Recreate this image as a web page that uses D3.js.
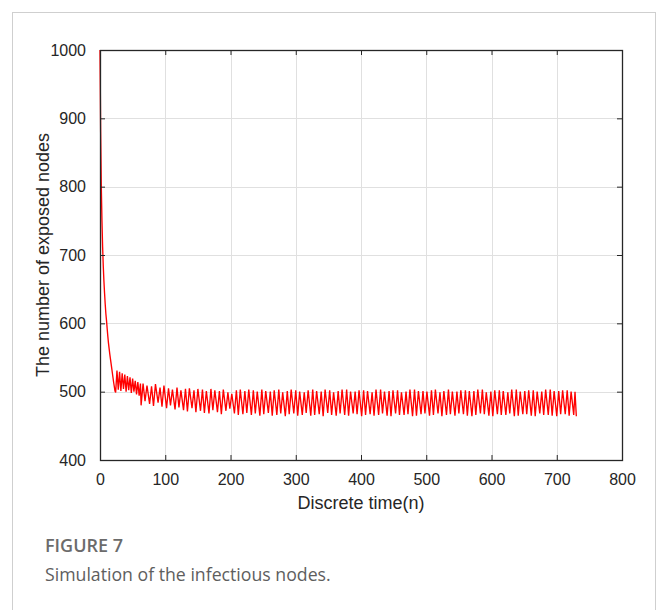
<!DOCTYPE html>
<html>
<head>
<meta charset="utf-8">
<script src="https://cdn.jsdelivr.net/npm/d3@7"></script>
<style>
  html, body { margin: 0; padding: 0; background: #fff; }
  svg { display: block; }
</style>
</head>
<body>
<svg id="chart" width="658" height="610"></svg>
<script>
// Axis ticks
const xTicks = [0, 100, 200, 300, 400, 500, 600, 700, 800];
const yTicks = [400, 500, 600, 700, 800, 900, 1000];

// Discrete time steps (vertices of the simulated trajectory)
const timeSteps = [
  0, 1, 2, 3, 4, 5, 6, 7, 8, 9, 10, 11, 12, 13, 14, 15, 16, 17, 18, 19, 20, 21, 22, 23,
  24, 26, 28, 30, 32, 34, 36, 38, 40, 42, 44, 46, 48, 50, 52, 54, 56, 58, 60, 62,
  63, 66, 69, 72,
  76, 79, 82, 85, 89, 92, 95, 98, 102, 105, 108, 111, 115, 118, 121, 124,
  128, 131, 134, 137, 141, 144, 147, 150, 154, 157, 160, 163, 167, 170, 173, 176,
  180, 183, 186, 189, 193, 196, 199, 202, 206, 209, 212, 215, 219, 222, 225, 228,
  232, 235, 238, 241, 245, 248, 251, 254, 258, 261, 264, 267, 271, 274, 277, 280,
  284, 287, 290, 293, 297, 300, 303, 306, 310, 313, 316, 319, 323, 326, 329, 332,
  336, 339, 342, 345, 349, 352, 355, 358, 362, 365, 368, 371, 375, 378, 381, 384,
  388, 391, 394, 397, 401, 404, 407, 410, 414, 417, 420, 423, 427, 430, 433, 436,
  440, 443, 446, 449, 453, 456, 459, 462, 466, 469, 472, 475, 479, 482, 485, 488,
  492, 495, 498, 501, 505, 508, 511, 514, 518, 521, 524, 527, 531, 534, 537, 540,
  544, 547, 550, 553, 557, 560, 563, 566, 570, 573, 576, 579, 583, 586, 589, 592,
  596, 599, 602, 605, 609, 612, 615, 618, 622, 625, 628, 631, 635, 638, 641, 644,
  648, 651, 654, 657, 661, 664, 667, 670, 674, 677, 680, 683, 687, 690, 693, 696,
  700, 703, 706, 709, 713, 716, 719, 722, 726, 728, 730
];

// Number of exposed nodes at each step
const exposedNodes = [
  1000, 880, 800, 750, 712, 684, 662, 644, 628, 614, 604, 592, 581, 571, 563, 555, 548, 541, 534, 527, 520, 513, 507, 501,
  499, 531, 503, 529, 501, 527, 504, 525, 500, 523, 502, 521, 498, 519, 500, 516, 496, 514, 494, 512,
  480, 512, 486, 509,
  482, 508, 479, 511, 484, 506, 478, 509, 476, 505, 480, 503, 474, 506, 477, 502,
  473, 504, 471, 505, 476, 502, 470, 504, 472, 503, 469, 501, 468, 504, 473, 502,
  470, 501, 467, 503, 472, 499, 475, 497, 468, 502, 466, 503, 467, 501, 469, 503,
  466, 502, 468, 500, 465, 503, 467, 501, 469, 500, 465, 502, 466, 503, 468, 499,
  464, 501, 467, 503, 468, 502, 465, 500, 466, 499, 469, 502, 465, 503, 466, 501,
  467, 500, 464, 503, 469, 502, 466, 499, 465, 501, 468, 503, 466, 503, 465, 500,
  468, 500, 467, 502, 464, 502, 466, 501, 467, 499, 465, 503, 466, 503, 468, 500,
  465, 501, 464, 502, 468, 502, 466, 499, 466, 500, 467, 503, 464, 503, 465, 501,
  467, 501, 468, 500, 465, 502, 466, 503, 468, 499, 464, 501, 466, 503, 467, 500,
  465, 500, 468, 502, 467, 502, 465, 501, 464, 501, 466, 503, 468, 503, 467, 499,
  465, 500, 464, 502, 467, 502, 466, 501, 466, 499, 468, 503, 464, 503, 465, 500,
  467, 501, 467, 502, 465, 502, 464, 500, 468, 500, 466, 503, 466, 503, 465, 501,
  464, 501, 467, 502, 467, 502, 465, 500, 466, 500, 464
];

const svg = d3.select("#chart");

// Outer figure frame
svg.append("rect")
  .attr("x", 12.5).attr("y", 12.5)
  .attr("width", 643).attr("height", 640)
  .attr("fill", "none").attr("stroke", "#cfcfcf").attr("stroke-width", 1);

const plot = { left: 100, right: 622, top: 50, bottom: 460 };

const x = d3.scaleLinear().domain([0, 800]).range([plot.left, plot.right]);
const y = d3.scaleLinear().domain([400, 1000]).range([plot.bottom, plot.top]);

const g = svg.append("g");

// Grid lines
g.append("g").selectAll("line").data(xTicks.slice(1, -1)).join("line")
  .attr("x1", d => Math.round(x(d)) + 0.5).attr("x2", d => Math.round(x(d)) + 0.5)
  .attr("y1", plot.top).attr("y2", plot.bottom)
  .attr("stroke", "#e0e0e0").attr("stroke-width", 1);
g.append("g").selectAll("line").data(yTicks.slice(1, -1)).join("line")
  .attr("y1", d => Math.round(y(d)) + 0.5).attr("y2", d => Math.round(y(d)) + 0.5)
  .attr("x1", plot.left).attr("x2", plot.right)
  .attr("stroke", "#e0e0e0").attr("stroke-width", 1);

// Data line
const line = d3.line()
  .x((d, i) => x(timeSteps[i]))
  .y(d => y(d));

g.append("path")
  .datum(exposedNodes)
  .attr("d", line)
  .attr("fill", "none")
  .attr("stroke", "#ff0000")
  .attr("stroke-width", 1.35)
  .attr("stroke-linejoin", "miter");

// Axes with inward ticks on all four sides
const axisColor = "#262626";
const fontFamily = "'Liberation Sans', Arial, sans-serif";

function styleAxis(sel) {
  sel.select(".domain").remove();
  sel.selectAll(".tick line").attr("stroke", axisColor);
  sel.selectAll(".tick text")
    .attr("fill", axisColor)
    .style("font-family", fontFamily)
    .style("font-size", "16px");
}

g.append("g")
  .attr("transform", `translate(0,${plot.bottom})`)
  .call(d3.axisBottom(x).tickValues(xTicks).tickFormat(d3.format("d")).tickSizeInner(-5).tickSizeOuter(0).tickPadding(14))
  .call(styleAxis);

g.append("g")
  .attr("transform", `translate(0,${plot.top})`)
  .call(d3.axisTop(x).tickValues(xTicks).tickFormat("").tickSizeInner(-5).tickSizeOuter(0))
  .call(styleAxis);

g.append("g")
  .attr("transform", `translate(${plot.left},0)`)
  .call(d3.axisLeft(y).tickValues(yTicks).tickFormat(d3.format("d")).tickSizeInner(-5).tickSizeOuter(0).tickPadding(14))
  .call(styleAxis);

g.append("g")
  .attr("transform", `translate(${plot.right},0)`)
  .call(d3.axisRight(y).tickValues(yTicks).tickFormat("").tickSizeInner(-5).tickSizeOuter(0))
  .call(styleAxis);

// Box
g.append("rect")
  .attr("x", plot.left + 0.5).attr("y", plot.top + 0.5)
  .attr("width", plot.right - plot.left).attr("height", plot.bottom - plot.top)
  .attr("fill", "none").attr("stroke", axisColor).attr("stroke-width", 1.3);

// Axis titles
svg.append("text")
  .attr("x", (plot.left + plot.right) / 2).attr("y", 509)
  .attr("text-anchor", "middle")
  .attr("fill", axisColor)
  .style("font-family", fontFamily).style("font-size", "18px")
  .text("Discrete time(n)");

svg.append("text")
  .attr("transform", `translate(49,${(plot.top + plot.bottom) / 2}) rotate(-90)`)
  .attr("text-anchor", "middle")
  .attr("fill", axisColor)
  .style("font-family", fontFamily).style("font-size", "18px")
  .text("The number of exposed nodes");

// Caption
svg.append("text")
  .attr("x", 45).attr("y", 552)
  .attr("fill", "#6b6b6b")
  .style("font-family", "'Open Sans', sans-serif").style("font-size", "18px").style("font-weight", 600)
  .text("FIGURE 7");

svg.append("text")
  .attr("x", 45).attr("y", 581)
  .attr("fill", "#5e5e5e")
  .style("font-family", "'Open Sans', sans-serif").style("font-size", "17.7px")
  .text("Simulation of the infectious nodes.");
</script>
</body>
</html>
